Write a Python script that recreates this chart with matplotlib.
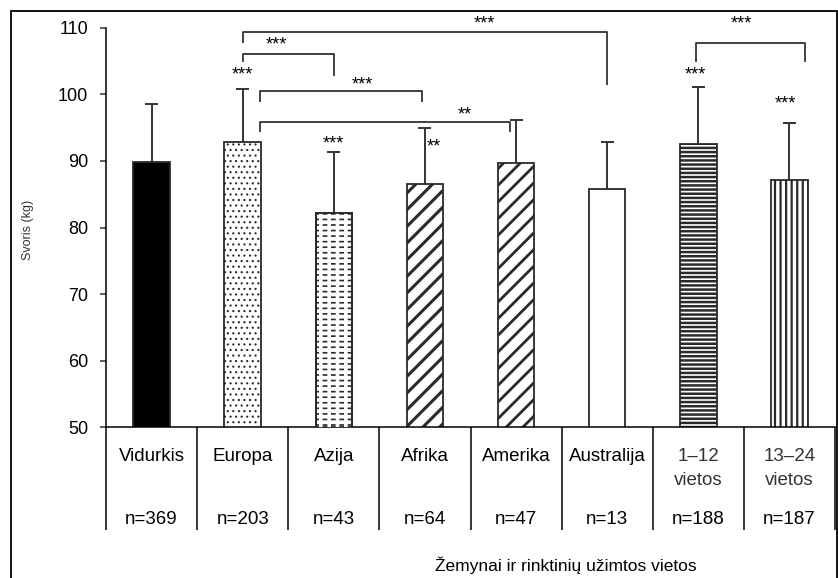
import matplotlib.pyplot as plt
from matplotlib.patches import Rectangle

plt.rcParams['font.family'] = ['Liberation Sans', 'DejaVu Sans']
plt.rcParams['hatch.linewidth'] = 1.5

# group labels, sample sizes, mean body weight and SD (kg)
labels = ['Vidurkis', 'Europa', 'Azija', 'Afrika', 'Amerika', 'Australija',
          '1–12\nvietos', '13–24\nvietos']
n_labels = ['n=369', 'n=203', 'n=43', 'n=64', 'n=47', 'n=13', 'n=188', 'n=187']
means = [89.8, 92.8, 82.2, 86.6, 89.7, 85.8, 92.6, 87.2]
sds = [8.7, 8.0, 9.2, 8.3, 6.4, 7.0, 8.5, 8.5]

# significance marks next to single bars: (x, y, text)
bar_marks = [(1.0, 103.35, '***'), (2.0, 93.0, '***'), (3.1, 92.5, '**'),
             (5.97, 103.35, '***'), (6.96, 99.0, '***')]

# comparison brackets: (x left, x right, top, left leg end, right leg end, text x, text y, text)
brackets = [
    (1.0, 5.0, 109.35, 107.7, 101.4, 3.65, 111.0, '***'),
    (1.0, 2.0, 106.05, 104.85, 102.75, 1.37, 107.85, '***'),
    (1.19, 2.97, 100.5, 98.84, 98.84, 2.31, 101.85, '***'),
    (1.19, 3.93, 95.84, 94.3, 94.3, 3.44, 97.3, '**'),
    (5.98, 7.17, 107.7, 104.85, 104.85, 6.47, 111.0, '***'),
]

# fill, hatch, hatch width per bar
styles = [
    ('black', '', 1.0),
    ('white', '...', 0.8),
    ('white', '---', 1.2),
    ('white', '//', 2.2),
    ('white', '//', 2.0),
    ('white', '', 1.0),
    ('white', '----', 1.8),
    ('white', '|||', 1.6),
]

fig = plt.figure(figsize=(8.38, 5.78), dpi=100)
ax = fig.add_axes([106 / 838, 1 - 427.3 / 578, 729 / 838, 399.6 / 578])

edge = '#2a2a2a'
for i, (fc, hatch, hlw) in enumerate(styles):
    with plt.rc_context({'hatch.linewidth': hlw}):
        bar = ax.bar(i, means[i], width=0.4, color=fc, edgecolor=edge,
                     linewidth=1.3, hatch=hatch, zorder=2)[0]
    if hasattr(bar, 'set_hatch_linewidth'):
        bar.set_hatch_linewidth(hlw)
    if labels[i] == 'Azija':
        # break the horizontal lines into dashes
        with plt.rc_context({'hatch.linewidth': 2.6}):
            cut = ax.bar(i, means[i], width=0.4, color='none', edgecolor='white',
                         linewidth=0, hatch='||', zorder=3)[0]
        if hasattr(cut, 'set_hatch_linewidth'):
            cut.set_hatch_linewidth(2.6)
        ax.bar(i, means[i], width=0.4, color='none', edgecolor=edge,
               linewidth=1.3, zorder=4)

# upper error bars only
xs = range(len(means))
tops = [m + s for m, s in zip(means, sds)]
ax.vlines(xs, means, tops, color='#333333', lw=1.4, zorder=1)
ax.hlines(tops, [x - 0.072 for x in xs], [x + 0.072 for x in xs],
          color='#333333', lw=1.4, zorder=1)

# asterisks sit high in the text box, so nudge them down a little
star_shift = 0.45
for x, y, t in bar_marks:
    ax.text(x, y - star_shift, t, ha='center', va='center', fontsize=13, clip_on=False)

for xl, xr, top, yl, yr, tx, ty, t in brackets:
    ax.plot([xl, xl, xr, xr], [yl, top, top, yr], color='#333333', lw=1.3,
            clip_on=False, solid_capstyle='butt')
    ax.text(tx, ty - star_shift, t, ha='center', va='center', fontsize=13, clip_on=False)

ax.set_xlim(-0.5, 7.5)
ax.set_ylim(50, 110)
ax.set_yticks(range(50, 111, 10))
ax.tick_params(axis='y', length=4, width=1.1, labelsize=13, pad=9, color='#333333')
ax.set_xticks([])
ax.spines['top'].set_visible(False)
ax.spines['right'].set_visible(False)
ax.spines['left'].set_linewidth(1.1)
ax.spines['bottom'].set_linewidth(1.1)

# table below the axis: group names and sample sizes
xt = ax.get_xaxis_transform()
ax.vlines([i - 0.5 for i in range(len(labels) + 1)], -0.258, 0, transform=xt,
          color='black', lw=1.1, clip_on=False)
for i, (lab, n) in enumerate(zip(labels, n_labels)):
    lines = lab.split('\n')
    col = '#333333' if len(lines) > 1 else 'black'
    for k, line in enumerate(lines):
        ax.text(i, -0.072 - 0.06 * k, line, transform=xt, ha='center', va='center',
                fontsize=13.5, color=col)
    ax.text(i, -0.2295, n, transform=xt, ha='center', va='center', fontsize=13.5)

fig.text(28 / 838, 1 - 230 / 578, 'Svoris (kg)', rotation=90, ha='center',
         va='center', fontsize=9, color='#333333')
fig.text(566 / 838, 1 - 565 / 578, 'Žemynai ir rinktinių užimtos vietos',
         ha='center', va='center', fontsize=12.5)

# outer frame, open at the bottom
fig.add_artist(Rectangle((11 / 838, -0.05), 826 / 838, 567 / 578 + 0.05,
                         transform=fig.transFigure, fill=False, lw=1.3,
                         edgecolor='black'))

fig.savefig('out.png', dpi=100)
